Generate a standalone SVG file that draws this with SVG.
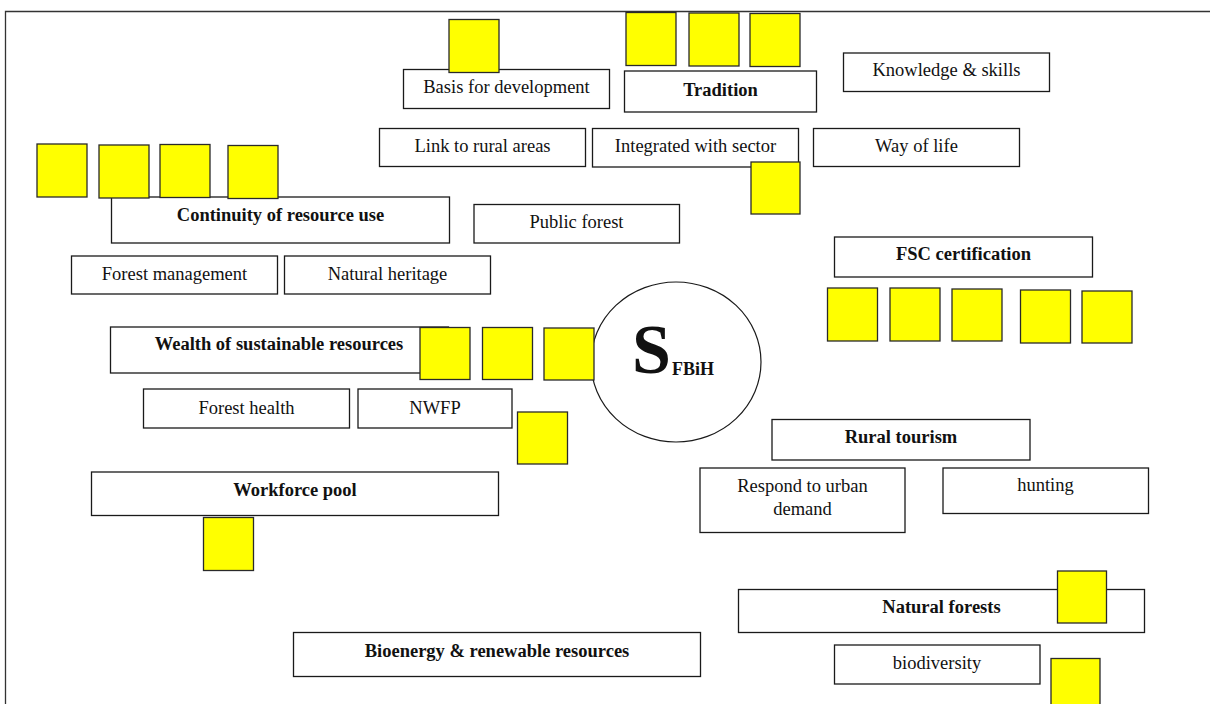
<svg xmlns="http://www.w3.org/2000/svg" width="1210" height="704" viewBox="0 0 1210 704">
  <style>
    .box { fill: #ffffff; stroke: #1a1a1a; stroke-width: 1.3; }
    .tag { fill: #ffff00; stroke: #2a2a2a; stroke-width: 1.3; }
    .hub { fill: #ffffff; stroke: #1a1a1a; stroke-width: 1.2; }
    text { font-family: "Liberation Serif", "Times New Roman", serif; fill: #111111; text-anchor: middle; }
    .t { font-size: 18.5px; }
    .b { font-size: 18.5px; font-weight: bold; }
  </style>

  <!-- page frame (top and left rules) -->
  <path d="M5.5 704 V11.5 H1210" fill="none" stroke="#333333" stroke-width="1.3"/>

  <g id="connectors"/>

  <!-- central hub -->
  <g id="node-sfbih">
    <ellipse class="hub" cx="676" cy="362" rx="85" ry="80"/>
    <text x="632" y="373" style="font-size:70px;font-weight:bold;text-anchor:start">S</text>
    <text x="672" y="375" style="font-size:18px;font-weight:bold;text-anchor:start">FBiH</text>
  </g>

  <!-- concept boxes -->
  <g id="node-basis">
    <rect class="box" x="403.5" y="69.5" width="206" height="39"/>
    <text class="t" x="506.5" y="93">Basis for development</text>
  </g>
  <g id="node-tradition">
    <rect class="box" x="624.5" y="71" width="192" height="41"/>
    <text class="b" x="720.5" y="96">Tradition</text>
  </g>
  <g id="node-knowledge">
    <rect class="box" x="843.5" y="53" width="206" height="38.5"/>
    <text class="t" x="946.5" y="76">Knowledge &amp; skills</text>
  </g>
  <g id="node-link">
    <rect class="box" x="379.5" y="128.5" width="206" height="38"/>
    <text class="t" x="482.5" y="152">Link to rural areas</text>
  </g>
  <g id="node-integrated">
    <rect class="box" x="592.5" y="128.5" width="206" height="38.5"/>
    <text class="t" x="695.5" y="152">Integrated with sector</text>
  </g>
  <g id="node-wayoflife">
    <rect class="box" x="813.5" y="128.5" width="206" height="38"/>
    <text class="t" x="916.5" y="152">Way of life</text>
  </g>
  <g id="node-continuity">
    <rect class="box" x="111.5" y="197" width="338" height="46"/>
    <text class="b" x="280.5" y="221">Continuity of resource use</text>
  </g>
  <g id="node-publicforest">
    <rect class="box" x="474" y="204.5" width="205.5" height="38.5"/>
    <text class="t" x="576.5" y="228">Public forest</text>
  </g>
  <g id="node-fsc">
    <rect class="box" x="834.5" y="237" width="258" height="40"/>
    <text class="b" x="963.5" y="260">FSC certification</text>
  </g>
  <g id="node-forestmanagement">
    <rect class="box" x="71.5" y="256" width="206" height="38"/>
    <text class="t" x="174.5" y="279.5">Forest management</text>
  </g>
  <g id="node-naturalheritage">
    <rect class="box" x="284.5" y="256" width="206" height="38"/>
    <text class="t" x="387.5" y="279.5">Natural heritage</text>
  </g>
  <g id="node-wealth">
    <rect class="box" x="110.5" y="327" width="338" height="46"/>
    <text class="b" x="279" y="350">Wealth of sustainable resources</text>
  </g>
  <g id="node-foresthealth">
    <rect class="box" x="143.5" y="389" width="206" height="39"/>
    <text class="t" x="246.5" y="413.5">Forest health</text>
  </g>
  <g id="node-nwfp">
    <rect class="box" x="358" y="389" width="154" height="39"/>
    <text class="t" x="435" y="413.5">NWFP</text>
  </g>
  <g id="node-ruraltourism">
    <rect class="box" x="772" y="419.5" width="258" height="40.5"/>
    <text class="b" x="901" y="443">Rural tourism</text>
  </g>
  <g id="node-respond">
    <rect class="box" x="700" y="468" width="205" height="64.5"/>
    <text class="t" x="802.5" y="492">Respond to urban</text>
    <text class="t" x="802.5" y="515">demand</text>
  </g>
  <g id="node-hunting">
    <rect class="box" x="943" y="468" width="205.5" height="45.5"/>
    <text class="t" x="1045.5" y="491">hunting</text>
  </g>
  <g id="node-workforce">
    <rect class="box" x="91.5" y="472" width="407" height="43.5"/>
    <text class="b" x="295" y="496">Workforce pool</text>
  </g>
  <g id="node-naturalforests">
    <rect class="box" x="738.5" y="589.5" width="406" height="43"/>
    <text class="b" x="941.5" y="612.5">Natural forests</text>
  </g>
  <g id="node-bioenergy">
    <rect class="box" x="293.5" y="632.5" width="407" height="44"/>
    <text class="b" x="497" y="657">Bioenergy &amp; renewable resources</text>
  </g>
  <g id="node-biodiversity">
    <rect class="box" x="834.5" y="645" width="205.5" height="39"/>
    <text class="t" x="937" y="668.5">biodiversity</text>
  </g>

  <!-- yellow markers -->
  <g id="markers">
    <rect class="tag" x="449" y="19.5" width="50" height="53"/>
    <rect class="tag" x="626" y="12.5" width="50" height="53"/>
    <rect class="tag" x="689" y="13" width="50" height="53"/>
    <rect class="tag" x="750" y="13.5" width="50" height="53"/>
    <rect class="tag" x="751" y="162" width="49" height="52"/>

    <rect class="tag" x="37" y="144" width="50" height="53"/>
    <rect class="tag" x="99" y="145" width="50" height="53"/>
    <rect class="tag" x="160" y="144.5" width="50" height="53"/>
    <rect class="tag" x="228" y="145.5" width="50" height="53"/>

    <rect class="tag" x="420" y="327.5" width="50" height="52"/>
    <rect class="tag" x="482.5" y="327.5" width="50" height="52"/>
    <rect class="tag" x="544" y="328" width="50" height="52"/>
    <rect class="tag" x="517.5" y="412" width="50" height="52"/>
    <rect class="tag" x="203.5" y="517.5" width="50" height="53"/>

    <rect class="tag" x="827.5" y="288" width="50" height="53"/>
    <rect class="tag" x="890" y="288" width="50" height="53"/>
    <rect class="tag" x="952" y="289" width="50" height="52"/>
    <rect class="tag" x="1020.5" y="290" width="50" height="53"/>
    <rect class="tag" x="1082" y="291" width="50" height="52"/>

    <rect class="tag" x="1057.5" y="571" width="49" height="52"/>
    <rect class="tag" x="1051" y="658.5" width="49" height="52"/>
  </g>
</svg>
